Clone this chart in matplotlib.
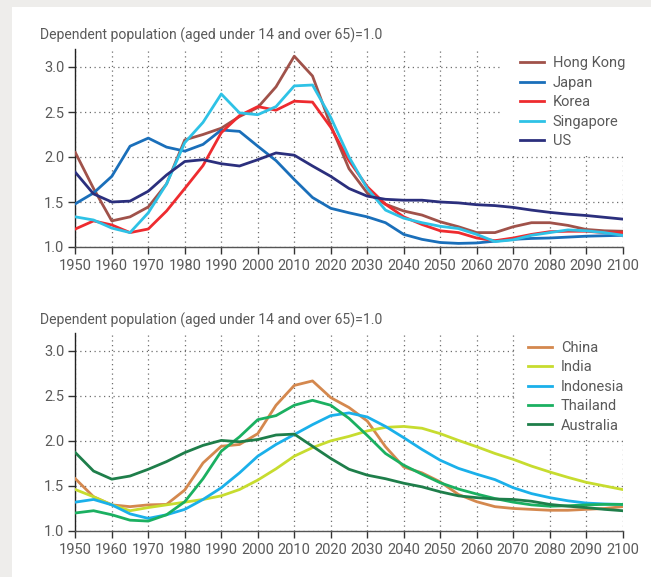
import matplotlib
matplotlib.use("Agg")
import matplotlib.pyplot as plt
from matplotlib.patches import Rectangle

years = list(range(1950, 2101, 5))

# Top panel series
hong_kong = [2.05, 1.65, 1.29, 1.335, 1.445, 1.70, 2.19, 2.25, 2.32, 2.45, 2.55,
             2.78, 3.12, 2.90, 2.35, 1.87, 1.60, 1.475, 1.40, 1.355, 1.28, 1.225,
             1.16, 1.16, 1.225, 1.27, 1.27, 1.24, 1.195, 1.18, 1.175]
japan = [1.48, 1.60, 1.785, 2.12, 2.21, 2.11, 2.065, 2.14, 2.30, 2.285, 2.12,
         1.96, 1.75, 1.55, 1.43, 1.38, 1.335, 1.27, 1.14, 1.085, 1.05, 1.04,
         1.045, 1.065, 1.085, 1.095, 1.10, 1.11, 1.12, 1.125, 1.13]
korea = [1.20, 1.29, 1.245, 1.16, 1.20, 1.40, 1.65, 1.905, 2.27, 2.46, 2.56,
         2.52, 2.62, 2.61, 2.33, 1.96, 1.67, 1.475, 1.335, 1.25, 1.18, 1.16,
         1.10, 1.07, 1.10, 1.14, 1.17, 1.175, 1.175, 1.16, 1.16]
singapore = [1.335, 1.30, 1.21, 1.16, 1.38, 1.70, 2.16, 2.385, 2.70, 2.49, 2.47,
             2.56, 2.79, 2.80, 2.44, 2.00, 1.65, 1.41, 1.32, 1.27, 1.23, 1.205,
             1.14, 1.06, 1.08, 1.13, 1.16, 1.19, 1.18, 1.16, 1.13]
us = [1.83, 1.59, 1.50, 1.51, 1.62, 1.80, 1.95, 1.97, 1.925, 1.90, 1.97,
      2.045, 2.02, 1.90, 1.785, 1.65, 1.565, 1.53, 1.52, 1.52, 1.50, 1.49,
      1.47, 1.46, 1.44, 1.41, 1.385, 1.365, 1.35, 1.33, 1.31]

# Bottom panel series
china = [1.58, 1.38, 1.29, 1.27, 1.29, 1.295, 1.455, 1.755, 1.94, 1.96, 2.08,
         2.395, 2.615, 2.665, 2.48, 2.37, 2.22, 1.935, 1.71, 1.645, 1.545, 1.405,
         1.325, 1.27, 1.25, 1.24, 1.23, 1.23, 1.24, 1.25, 1.27]
india = [1.46, 1.38, 1.29, 1.225, 1.26, 1.29, 1.32, 1.35, 1.39, 1.46, 1.565,
         1.69, 1.83, 1.925, 2.00, 2.05, 2.11, 2.15, 2.16, 2.14, 2.08, 2.005,
         1.935, 1.86, 1.795, 1.72, 1.655, 1.595, 1.54, 1.50, 1.46]
indonesia = [1.32, 1.35, 1.29, 1.19, 1.14, 1.18, 1.24, 1.35, 1.48, 1.645, 1.83,
             1.96, 2.07, 2.18, 2.28, 2.31, 2.265, 2.16, 2.035, 1.905, 1.785, 1.695,
             1.63, 1.57, 1.48, 1.415, 1.37, 1.335, 1.31, 1.30, 1.295]
thailand = [1.20, 1.225, 1.18, 1.12, 1.11, 1.18, 1.325, 1.58, 1.885, 2.045, 2.235,
            2.28, 2.395, 2.45, 2.395, 2.25, 2.06, 1.86, 1.73, 1.63, 1.535, 1.465,
            1.41, 1.36, 1.32, 1.29, 1.275, 1.28, 1.29, 1.295, 1.295]
australia = [1.87, 1.665, 1.575, 1.61, 1.685, 1.77, 1.87, 1.95, 2.005, 1.99, 2.015,
             2.065, 2.075, 1.94, 1.805, 1.685, 1.62, 1.58, 1.53, 1.49, 1.435, 1.39,
             1.37, 1.355, 1.35, 1.33, 1.295, 1.275, 1.26, 1.24, 1.225]

top_names = ["Hong Kong", "Japan", "Korea", "Singapore", "US"]
top_series = [hong_kong, japan, korea, singapore, us]
top_colors = ["#a0524a", "#1a6fba", "#ee2b2f", "#2ec2e6", "#2b2f7d"]

bot_names = ["China", "India", "Indonesia", "Thailand", "Australia"]
bot_series = [china, india, indonesia, thailand, australia]
bot_colors = ["#d4884e", "#c7dc2f", "#1ab0ea", "#1bb061", "#1e7e4a"]

xticks = list(range(1950, 2101, 10))
yticks = [1.0, 1.5, 2.0, 2.5, 3.0]
ytitle = "Dependent population (aged under 14 and over 65)=1.0"

FONT = "Roboto"
TXT = "#5a5a5a"
plt.rcParams["font.family"] = [FONT, "DejaVu Sans"]

W, H = 651, 577
fig = plt.figure(figsize=(W / 100, H / 100), dpi=100, facecolor="#eeedeb")
fig.patches.append(Rectangle((12 / W, 0), 1, (H - 7) / H, transform=fig.transFigure,
                             facecolor="white", edgecolor="none", zorder=-10))

def make_axes(top_px, bottom_px, names, series, colors, title_y_px, box_x0,
              legend_x_px, legend_y_px):
    left = 75.3 / W
    right = 622.7 / W
    ax = fig.add_axes([left, 1 - bottom_px / H, right - left, (bottom_px - top_px) / H])
    ax.set_facecolor("none")
    for name, vals, c in zip(names, series, colors):
        ax.plot(years, vals, color=c, lw=2.0, label=name, zorder=3)
    ax.set_xlim(1950, 2100)
    ax.set_ylim(1.0, 3.2)
    ax.set_xticks(xticks)
    ax.set_yticks(yticks)
    ax.set_yticklabels([f"{v:.1f}" for v in yticks])
    ax.grid(True, color="#6e6e6e", linestyle=(0, (1, 2.8)), linewidth=0.9)
    ax.set_axisbelow(True)
    for s in ["top", "right"]:
        ax.spines[s].set_visible(False)
    ax.spines["left"].set_color("#222222")
    ax.spines["left"].set_linewidth(1.0)
    ax.spines["bottom"].set_color("#555555")
    ax.spines["bottom"].set_linewidth(1.0)
    ax.tick_params(axis="both", direction="out", length=5, width=1.0, color="#333333",
                   labelsize=10.5, labelcolor=TXT)
    ax.tick_params(axis="x", pad=4)
    ax.tick_params(axis="y", pad=3)
    # white box behind legend hiding the grid
    ax.add_patch(Rectangle((box_x0, 2.035), 2110 - box_x0, 1.3, facecolor="white",
                           edgecolor="none", zorder=1, clip_on=False))
    leg = ax.legend(loc="upper left", bbox_to_anchor=((legend_x_px - 75.3) / 547.4,
                    1 - (legend_y_px - top_px) / (bottom_px - top_px)),
                    frameon=False, fontsize=10.5, handlelength=1.65, handletextpad=0.6,
                    labelspacing=0.37, borderaxespad=0, borderpad=0)
    for t in leg.get_texts():
        t.set_color(TXT)
    fig.text(40 / W, 1 - title_y_px / H, ytitle, fontsize=10.1, color=TXT,
             ha="left", va="center")
    return ax

make_axes(49, 247, top_names, top_series, top_colors, 35, 2067, 520, 56.5)
make_axes(332.7, 531, bot_names, bot_series, bot_colors, 320.7, 2071, 528, 341)

fig.savefig("out.png", dpi=100, facecolor=fig.get_facecolor())
